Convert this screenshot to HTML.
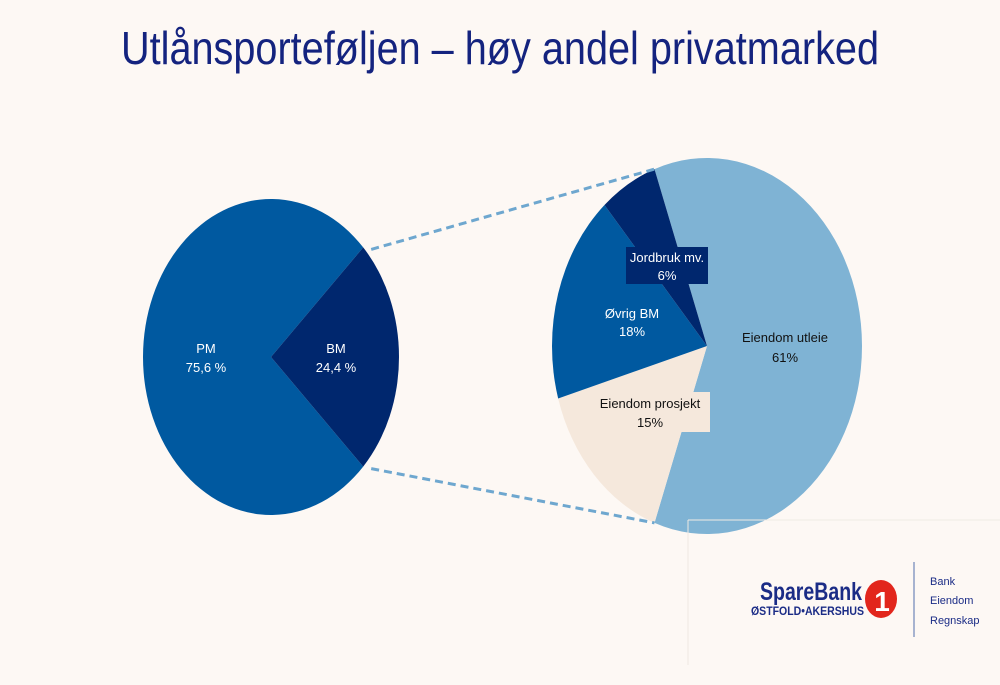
<!DOCTYPE html>
<html><head><meta charset="utf-8"><style>
html,body{margin:0;padding:0;background:#fdf8f4;}
svg{display:block;font-family:"Liberation Sans",sans-serif;}
</style></head><body>
<svg id="chart" width="1000" height="685" viewBox="0 0 1000 685">
<rect width="1000" height="685" fill="#fdf8f4"/>
<text x="500" y="64" text-anchor="middle" font-size="46" fill="#14237f" textLength="758" lengthAdjust="spacingAndGlyphs">Utlånsporteføljen – høy andel privatmarked</text>
<g id="left"></g>
<g id="right"></g>
<g id="connectors"></g>
<g id="labels"></g>
<g>
<line x1="688" y1="520" x2="688" y2="665" stroke="#eee8e2" stroke-width="1"/>
<line x1="688" y1="520" x2="1000" y2="520" stroke="#f0ebe5" stroke-width="1"/>
<text x="862" y="600" text-anchor="end" font-size="25" font-weight="bold" fill="#1b2c86" textLength="102" lengthAdjust="spacingAndGlyphs">SpareBank</text>
<text x="864" y="615" text-anchor="end" font-size="11.5" font-weight="bold" fill="#1b2c86" textLength="113" lengthAdjust="spacingAndGlyphs">ØSTFOLD•AKERSHUS</text>
<ellipse cx="881" cy="599" rx="16" ry="19" fill="#e2261c"/>
<text x="882" y="611" text-anchor="middle" font-size="28" font-weight="bold" fill="#fff">1</text>
<line x1="914" y1="562" x2="914" y2="637" stroke="#8a9cc4" stroke-width="1.5"/>
<text x="930" y="585" font-size="11" fill="#1b2c86">Bank</text>
<text x="930" y="604" font-size="11" fill="#1b2c86">Eiendom</text>
<text x="930" y="624" font-size="11" fill="#1b2c86">Regnskap</text>
</g>
</svg>
<script>
const leftCats = ["PM","BM"];
const leftVals = [75.6, 24.4];
const leftLabels = ["75,6 %","24,4 %"];
const rightCats = ["Eiendom utleie","Eiendom prosjekt","Øvrig BM","Jordbruk mv."];
const rightVals = [61, 15, 18, 6];
const rightLabels = ["61%","15%","18%","6%"];

const NS="http://www.w3.org/2000/svg";
function mk(tag,attrs,parent){const e=document.createElementNS(NS,tag);for(const k in attrs)e.setAttribute(k,attrs[k]);parent.appendChild(e);return e;}
function pt(cx,cy,rx,ry,a){return [cx+rx*Math.cos(a),cy+ry*Math.sin(a)];}
function wedge(cx,cy,rx,ry,a0,a1){const p0=pt(cx,cy,rx,ry,a0),p1=pt(cx,cy,rx,ry,a1);const large=(a1-a0)>Math.PI?1:0;
 return `M${cx},${cy}L${p0[0]},${p0[1]}A${rx},${ry} 0 ${large} 1 ${p1[0]},${p1[1]}Z`;}

// left pie: BM centered at right
const L={cx:271,cy:357,rx:128,ry:158};
const lTot=leftVals.reduce((a,b)=>a+b,0);
const bmAng=leftVals[1]/lTot*2*Math.PI;
const lStart=[bmAng/2, -bmAng/2];
const leftColors=["#0059a0","#00276e"];
const lg=document.getElementById('left');
leftVals.forEach((v,i)=>{
 const a0=lStart[i], a1=a0+v/lTot*2*Math.PI;
 const p=mk('path',{d:wedge(L.cx,L.cy,L.rx,L.ry,a0,a1),fill:leftColors[i]},lg);
 
 
});
// right pie: utleie centered at right
const R={cx:707,cy:346,rx:155,ry:188};
const rTot=rightVals.reduce((a,b)=>a+b,0);
const rightColors=["#7fb3d4","#f5e8dc","#0059a0","#00276e"];
const rg=document.getElementById('right');
let a=-rightVals[0]/rTot*Math.PI;
const rAngles=[];
rightVals.forEach((v,i)=>{
 const a1=a+v/rTot*2*Math.PI;
 rAngles.push([a,a1]);
 const p=mk('path',{d:wedge(R.cx,R.cy,R.rx,R.ry,a,a1),fill:rightColors[i]},rg);
 
 
 a=a1;
});
// connectors
const cg=document.getElementById('connectors');
const lt=pt(L.cx,L.cy,L.rx,L.ry,-bmAng/2), lb=pt(L.cx,L.cy,L.rx,L.ry,bmAng/2);
const rt=pt(R.cx,R.cy,R.rx,R.ry,rAngles[0][0]), rb=pt(R.cx,R.cy,R.rx,R.ry,rAngles[0][1]);
[[lt,rt,'connector-top'],[lb,rb,'connector-bottom']].forEach(([p,q,n])=>{
 const l=mk('line',{x1:p[0]+8,y1:p[1]+2,x2:q[0],y2:q[1],stroke:'#6ea7cf','stroke-width':3,'stroke-dasharray':'8,5'},cg);
 
 
});
// labels
const lab=document.getElementById('labels');
function txt(x,y,s,fill,name){const t=mk('text',{x:x,y:y,'text-anchor':'middle','font-size':13,fill:fill},lab);t.textContent=s;
 
 return t;}
txt(206,353,leftCats[0],'#fff','label-pm');txt(206,372,leftLabels[0],'#fff','value-pm');
txt(336,353,leftCats[1],'#fff','label-bm');txt(336,372,leftLabels[1],'#fff','value-bm');
const b1=mk('rect',{x:626,y:247,width:82,height:37,fill:'#00276e'},lab);


const b2=mk('rect',{x:589,y:392,width:121,height:40,fill:'#f5e8dc'},lab);


txt(667,262,rightCats[3],'#fff','label-jordbruk');txt(667,280,rightLabels[3],'#fff','value-jordbruk');
txt(632,318,rightCats[2],'#fff','label-ovrig-bm');txt(632,336,rightLabels[2],'#fff','value-ovrig-bm');
txt(650,408,rightCats[1],'#111','label-prosjekt');txt(650,427,rightLabels[1],'#111','value-prosjekt');
txt(785,342,rightCats[0],'#111','label-utleie');txt(785,362,rightLabels[0],'#111','value-utleie');
</script>
</body></html>
